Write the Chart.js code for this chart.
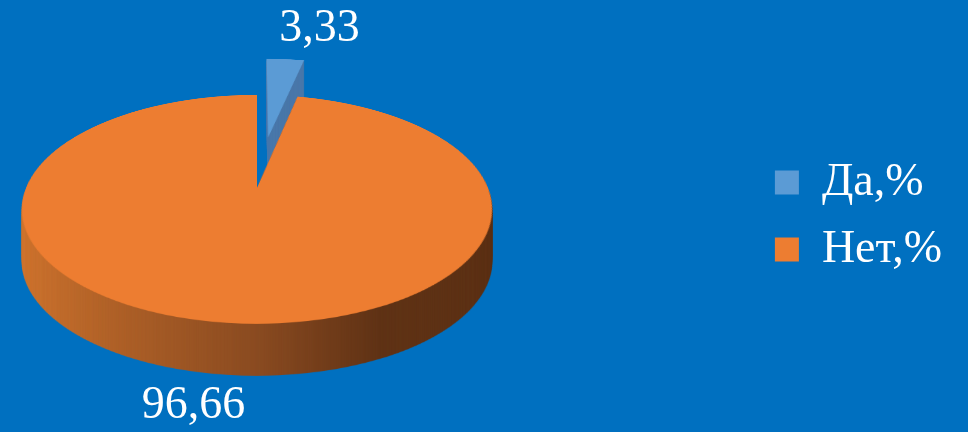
<!DOCTYPE html>
<html>
<head>
<meta charset="utf-8">
<script src="https://cdn.jsdelivr.net/npm/chart.js@4.4.0/dist/chart.umd.min.js"></script>
<style>
  html, body { margin: 0; padding: 0; background: #0070c0; }
  #wrap { width: 968px; height: 432px; }
</style>
</head>
<body>
<div id="wrap"><canvas id="pie"></canvas></div>
<script>
"use strict";

// Data
const categories = ["Да,%", "Нет,%"];
const percentValues = [3.33, 96.66];

const serif = "'Liberation Serif', 'Times New Roman', serif";

// perspective of the lying disc (screen px), c = how much nearer parts grow
const view3d = { cx: 257, cy: 188, rx: 231, ry: 110.5, c: 0.188, depth: 52 };

// comma decimals like the original
const formatValue = (v) => String(v).replace(".", ",");

// disc coords (u, v in radii, v towards the viewer) -> screen
const project = (u, v) => {
  const s = 1 / (1 - view3d.c * v);
  return [view3d.cx + view3d.rx * u * s, view3d.cy + view3d.ry * v * s];
};


// plugin: paint the flat pie off screen, then lay it down with perspective and give it a wall
const tiltedPie = {
  id: "tiltedPie",
  beforeDatasetsDraw(chart, args, opts) {
    const ctx = chart.ctx;
    const arcs = chart.getDatasetMeta(0).data;
    const { x, y, outerRadius: R } = arcs[0];

    const P = 240; // source px per radius
    const uMin = -1.1, vMin = -1.65, vMax = 1.1;
    const srcW = Math.round(2.2 * P);
    const srcH = Math.round((vMax - vMin) * P);

    const paintFlat = (fills) => {
      const src = document.createElement("canvas");
      src.width = srcW;
      src.height = srcH;
      const sctx = src.getContext("2d");
      arcs.forEach((arc, i) => {
        const mid = (arc.startAngle + arc.endAngle) / 2;
        const out = (opts.explode[i] || 0) * R;
        sctx.save();
        sctx.translate(-uMin * P, -vMin * P);
        sctx.scale(P / R, P / R);
        sctx.translate(Math.cos(mid) * out, Math.sin(mid) * out);
        sctx.translate(-x, -y);
        const fill = typeof fills[i] === "function" ? fills[i](sctx) : fills[i];
        const flat = Object.create(arc);
        flat.options = Object.assign({}, arc.options, { backgroundColor: fill, offset: 0 });
        flat.draw(sctx);
        sctx.restore();
      });
      return src;
    };

    const layDown = (src) => {
      const out = document.createElement("canvas");
      out.width = chart.width;
      out.height = chart.height;
      const octx = out.getContext("2d");
      for (let Y = 0; Y < chart.height; Y++) {
        const t = Y + 0.5 - view3d.cy;
        const v = t / (view3d.ry + view3d.c * t);
        if (v < vMin || v > vMax) continue;
        const s = 1 / (1 - view3d.c * v);
        const dw = (srcW / P) * view3d.rx * s;
        const dx = view3d.cx + uMin * view3d.rx * s;
        octx.drawImage(src, 0, (v - vMin) * P, srcW, 1, dx, Y, dw, 1);
      }
      return out;
    };

    const wallGradient = (c) => {
      const g = c.createLinearGradient(x - R, 0, x + R, 0);
      g.addColorStop(0, "#d2762f");
      g.addColorStop(0.5, "#8a4b21");
      g.addColorStop(0.72, "#603316");
      g.addColorStop(1, "#5c3115");
      return g;
    };

    const top = layDown(paintFlat(arcs.map((a) => a.options.backgroundColor)));
    const wall = layDown(paintFlat(["#4a78aa", wallGradient]));

    for (let d = view3d.depth; d > 0; d--) ctx.drawImage(wall, 0, d);
    ctx.drawImage(top, 0, 0);

    return false;
  },

  afterDraw(chart, args, opts) {
    const ctx = chart.ctx;
    const arcs = chart.getDatasetMeta(0).data;
    const values = chart.data.datasets[0].data;

    ctx.save();
    ctx.fillStyle = "#ffffff";
    ctx.font = `46px ${serif}`;
    arcs.forEach((arc, i) => {
      const mid = (arc.startAngle + arc.endAngle) / 2;
      const r = 1 + (opts.explode[i] || 0);
      const du = Math.cos(mid);
      const dv = Math.sin(mid);
      let [px, py] = project(du * r, dv * r);

      ctx.textAlign = du < 0 ? "right" : "left";
      if (dv < 0) {
        ctx.textBaseline = "alphabetic";
        py -= 18;
        px -= 6;
      } else {
        ctx.textBaseline = "top";
        py += view3d.depth + 8;
        px += 18;
      }
      ctx.fillText(formatValue(values[i]), px, py);
    });
    ctx.restore();
  }
};


new Chart(document.getElementById("pie"), {
  type: "pie",
  data: {
    labels: categories,
    datasets: [
      {
        data: percentValues,
        backgroundColor: ["#5b9bd5", "#ed7d31"],
        borderColor: ["#5b9bd5", "#ed7d31"],
        borderWidth: 0,
      },
    ],
  },
  options: {
    responsive: true,
    maintainAspectRatio: false,
    animation: false,
    layout: { padding: { right: 16 } },
    plugins: {
      tooltip: { enabled: false },
      tiltedPie: { explode: [0.5, 0] },
      legend: {
        position: "right",
        labels: {
          color: "#ffffff",
          font: { family: serif, size: 46 },
          boxWidth: 24,
          boxHeight: 24,
          padding: 21,
        },
      },
    },
  },
  plugins: [tiltedPie],
});
</script>
</body>
</html>
